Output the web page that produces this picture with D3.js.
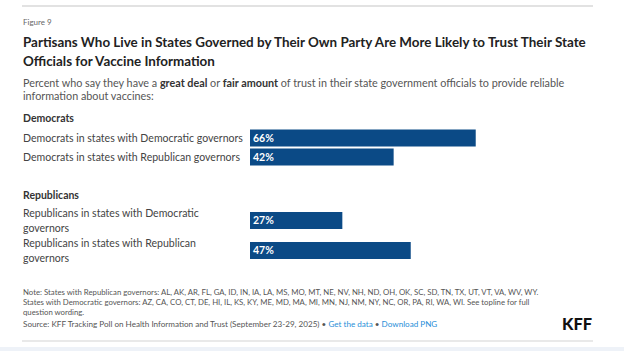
<!DOCTYPE html>
<html>
<head>
<meta charset="utf-8">
<script src="https://cdn.jsdelivr.net/npm/d3@7"></script>
<style>
  body { margin: 0; background: #fff; }
  svg { display: block; font-family: Lato, "Noto Sans", sans-serif; }
</style>
</head>
<body>
<svg id="chart" width="624" height="351"></svg>
<script>
const groups = ["Democrats", "Republicans"];
const rowGroups = ["Democrats", "Democrats", "Republicans", "Republicans"];
const rowLabels = [
  ["Democrats in states with Democratic governors"],
  ["Democrats in states with Republican governors"],
  ["Republicans in states with Democratic", "governors"],
  ["Republicans in states with Republican", "governors"]
];
const values = [66, 42, 27, 47];

const noteLines = [
  "Note: States with Republican governors: AL, AK, AR, FL, GA, ID, IN, IA, LA, MS, MO, MT, NE, NV, NH, ND, OH, OK, SC, SD, TN, TX, UT, VT, VA, WV, WY.",
  "States with Democratic governors: AZ, CA, CO, CT, DE, HI, IL, KS, KY, ME, MD, MA, MI, MN, NJ, NM, NY, NC, OR, PA, RI, WA, WI. See topline for full",
  "question wording."
];

const svg = d3.select("#chart");
const left = 23;

// font size that makes a text span the width measured on the reference
function fit(sel, target) {
  const size = +sel.attr("font-size");
  const w = sel.node().getComputedTextLength();
  return size * target / w;
}

svg.append("rect").attr("x", 0).attr("y", 347).attr("width", 624).attr("height", 4).attr("fill", "#eef2f8");
svg.append("line").attr("x1", 22).attr("x2", 593).attr("y1", 6).attr("y2", 6).attr("stroke", "#e2e2e2").attr("stroke-width", 2);
svg.append("line").attr("x1", 22).attr("x2", 593).attr("y1", 341).attr("y2", 341).attr("stroke", "#e2e2e2").attr("stroke-width", 1.5);

svg.append("text").attr("x", left).attr("y", 25).attr("font-size", 8).attr("fill", "#666").text("Figure 9");

const title = svg.append("text").attr("x", left).attr("font-size", 13.6).attr("font-weight", 700).attr("fill", "#222");
const t1 = title.append("tspan").attr("x", left).attr("y", 47).text("Partisans Who Live in States Governed by Their Own Party Are More Likely to Trust Their State");
title.append("tspan").attr("x", left).attr("y", 66).text("Officials for Vaccine Information");
title.attr("font-size", 13.6 * 563 / t1.node().getComputedTextLength());

const sub = svg.append("text").attr("font-size", 10.8).attr("fill", "#555");
const s1 = sub.append("tspan").attr("x", left).attr("y", 87);
s1.append("tspan").text("Percent who say they have a ");
s1.append("tspan").attr("font-weight", 700).attr("fill", "#333").text("great deal");
s1.append("tspan").text(" or ");
s1.append("tspan").attr("font-weight", 700).attr("fill", "#333").text("fair amount");
s1.append("tspan").text(" of trust in their state government officials to provide reliable");
sub.append("tspan").attr("x", left).attr("y", 100).text("information about vaccines:");

// layout of rows
const x = d3.scaleLinear().domain([0, 100]).range([250, 592]);
const barH = 17;
const rows = [];
let cursor = 112;
groups.forEach(g => {
  const gy = cursor;
  svg.append("text").attr("class", "group").attr("x", left).attr("y", gy + 10)
    .attr("font-size", 10.5).attr("font-weight", 700).attr("fill", "#333").text(g);
  cursor = gy + 16.5;
  rowGroups.forEach((rg, i) => {
    if (rg !== g) return;
    const h = rowLabels[i].length === 1 ? 19 : 30;
    rows.push({ label: rowLabels[i], value: values[i], cy: cursor + h / 2 });
    cursor += h;
  });
  cursor += 22.5;
});
const groupText = svg.selectAll("text.group");
groupText.attr("font-size", fit(groupText.filter((d, i) => i === 0), 51));

const row = svg.append("g").selectAll("g").data(rows).join("g");
const labels = row.append("text")
  .attr("font-size", 10.5).attr("fill", "#444")
  .each(function(d) {
    const t = d3.select(this);
    const n = d.label.length;
    d.label.forEach((line, j) => {
      t.append("tspan").attr("x", left).attr("y", d.cy + 3.8 + (j - (n - 1) / 2) * 14.5).text(line);
    });
  });
labels.attr("font-size", fit(labels.filter((d, i) => i === 0), 220));

row.append("rect")
  .attr("x", x(0)).attr("y", d => d.cy - barH / 2)
  .attr("width", d => x(d.value) - x(0)).attr("height", barH)
  .attr("fill", "#0b4a86");
row.append("text")
  .attr("x", x(0) + 3).attr("y", d => d.cy + 3.8)
  .attr("font-size", 10.5).attr("font-weight", 700).attr("fill", "#fff")
  .text(d => d.value + "%");

const src = svg.append("text").attr("x", left).attr("y", 327).attr("font-size", 7.4).attr("fill", "#555");
src.append("tspan").text("Source: KFF Tracking Poll on Health Information and Trust (September 23-29, 2025) • ");
src.append("tspan").attr("fill", "#2a8fd8").text("Get the data");
src.append("tspan").text(" • ");
src.append("tspan").attr("fill", "#2a8fd8").text("Download PNG");
src.attr("font-size", fit(src, 414));

const notes = svg.append("text").attr("font-size", 7.4).attr("fill", "#555");
const n1 = notes.append("tspan").attr("x", left).attr("y", 295).text(noteLines[0]);
noteLines.slice(1).forEach((l, i) => notes.append("tspan").attr("x", left).attr("y", 305.2 + i * 10.2).text(l));
notes.attr("font-size", 7.4 * 516 / n1.node().getComputedTextLength());

const kff = svg.append("text").attr("x", 592).attr("y", 330).attr("text-anchor", "end")
  .attr("font-size", 14).attr("font-weight", 900).attr("fill", "#111").text("KFF");
kff.attr("font-size", fit(kff, 30));
</script>
</body>
</html>
